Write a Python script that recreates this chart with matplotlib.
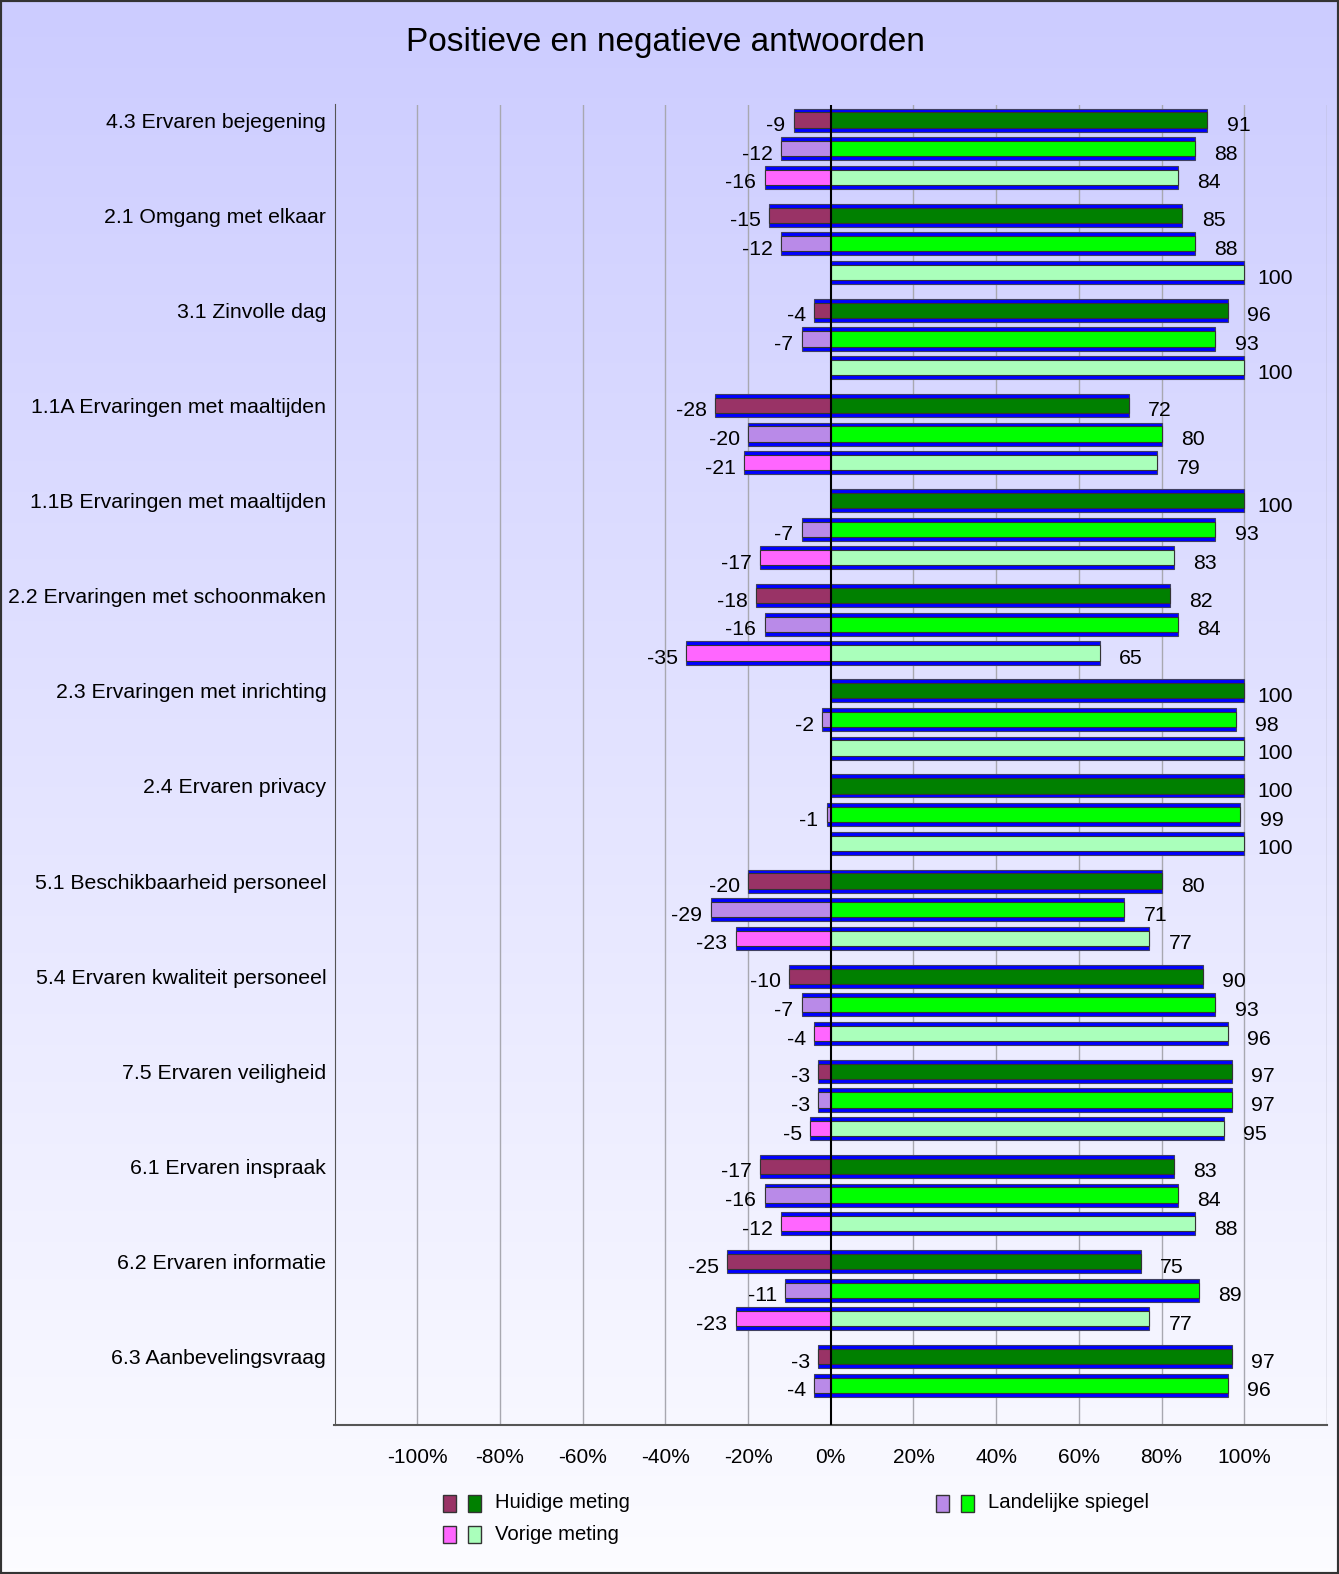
import numpy as np
import matplotlib
matplotlib.use("Agg")
import matplotlib.pyplot as plt
from matplotlib.patches import Rectangle

plt.rcParams['font.family'] = ['Liberation Sans', 'DejaVu Sans']

# Data (percentages)

categories = ["4.3 Ervaren bejegening", "2.1 Omgang met elkaar",
    "3.1 Zinvolle dag", "1.1A Ervaringen met maaltijden",
    "1.1B Ervaringen met maaltijden", "2.2 Ervaringen met schoonmaken",
    "2.3 Ervaringen met inrichting", "2.4 Ervaren privacy",
    "5.1 Beschikbaarheid personeel", "5.4 Ervaren kwaliteit personeel",
    "7.5 Ervaren veiligheid", "6.1 Ervaren inspraak",
    "6.2 Ervaren informatie", "6.3 Aanbevelingsvraag"]

huidige_neg = [-9, -15, -4, -28, None, -18, None, None, -20, -10, -3, -17, -25, -3]
huidige_pos = [91, 85, 96, 72, 100, 82, 100, 100, 80, 90, 97, 83, 75, 97]
landelijk_neg = [-12, -12, -7, -20, -7, -16, -2, -1, -29, -7, -3, -16, -11, -4]
landelijk_pos = [88, 88, 93, 80, 93, 84, 98, 99, 71, 93, 97, 84, 89, 96]
vorige_neg = [-16, None, None, -21, -17, -35, None, None, -23, -4, -5, -12, -23, None]
vorige_pos = [84, 100, 100, 79, 83, 65, 100, 100, 77, 96, 95, 88, 77, None]

series_names = ["Huidige meting", "Landelijke spiegel", "Vorige meting"]
neg_colors = ["#993366", "#b98ae8", "#ff66ff"]
pos_colors = ["#008000", "#00ff00", "#aaffbb"]
series = [(huidige_neg, huidige_pos), (landelijk_neg, landelijk_pos),
    (vorige_neg, vorige_pos)]

W, H = 1339, 1574
fig = plt.figure(figsize=(W/100, H/100), dpi=100)

# gradient background
bg = fig.add_axes([0, 0, 1, 1], zorder=-1)
top = np.array([204, 204, 255]) / 255
bot = np.array([252, 252, 255]) / 255
t = np.linspace(0, 1, 256)[:, None, None]
grad = top*(1-t) + bot*t
grad = np.repeat(grad, 2, axis=1)
bg.imshow(grad, aspect='auto', extent=[0, 1, 0, 1])
bg.axis('off')

ax_left, ax_right, ax_top, ax_bot = 334.5, 1327, 104.5, 1425
ax = fig.add_axes([ax_left/W, 1-ax_bot/H, (ax_right-ax_left)/W,
    (ax_bot-ax_top)/H])
ax.set_facecolor('none')

step = 0.301
outer_h = 0.243
inner_h = 0.16
groups = np.arange(len(categories))
val_size = 15.3

for s, (negs, poss) in enumerate(series):
    for i in groups:
        y = i + s*step
        n = negs[i]
        p = poss[i]
        if n is None and p is None:
            continue
        left = n if n is not None else 0
        right = p if p is not None else 0
        ax.barh(y, right-left, left=left, height=outer_h, color="#0000ff",
            edgecolor="#404060", linewidth=0.8, zorder=2)
        if n is not None:
            ax.barh(y, n, height=inner_h, color=neg_colors[s],
                edgecolor="#333333", linewidth=0.8, zorder=3)
            ax.annotate("{}".format(n), (n, y), xytext=(-6, -4),
                textcoords='offset points', ha='right', va='center',
                fontsize=val_size)
        if p is not None:
            ax.barh(y, p, height=inner_h, color=pos_colors[s],
                edgecolor="#333333", linewidth=0.8, zorder=3)
            ax.annotate("{}".format(p), (p, y), xytext=(22.5, -4),
                textcoords='offset points', ha='center', va='center',
                fontsize=val_size)

ax.axvline(0, color='black', lw=1.5, zorder=5)
for gx in range(-100, 121, 20):
    if gx != 0:
        ax.axvline(gx, color='#a8a8b0', lw=1, zorder=1)

ax.set_xlim(-120, 120)
ax.set_ylim(13 + 2*step + 11/94.7, -15.5/94.7)
ax.set_xticks(range(-100, 101, 20))
ax.set_xticklabels(["{}%".format(v) for v in range(-100, 101, 20)])
ax.set_yticks(groups)
ax.set_yticklabels(categories)
ax.tick_params(axis='x', length=0, pad=16.5, labelsize=15)
ax.tick_params(axis='y', length=0, pad=6, labelsize=15.3)
for sp in ['top', 'right']:
    ax.spines[sp].set_visible(False)
ax.spines['left'].set_color('#555555')
ax.spines['bottom'].set_color('#555555')
ax.spines['bottom'].set_linewidth(1.5)

fig.text(0.497, 1-42/H, "Positieve en negatieve antwoorden", ha='center',
    va='center', fontsize=24)

# legend
legend_pos = [(443, 1503, 0), (936, 1503, 1), (443, 1534, 2)]
for lx, ly, s in legend_pos:
    for k, c in enumerate([neg_colors[s], pos_colors[s]]):
        fig.patches.append(Rectangle(((lx + k*25)/W, 1-(ly+8.5)/H),
            13/W, 17/H, transform=fig.transFigure, facecolor=c,
            edgecolor='#333333', lw=1))
    fig.text((lx+52)/W, 1-ly/H, series_names[s], ha='left', va='center',
        fontsize=14.6)

fig.patches.append(Rectangle((0, 0), 1, 1, transform=fig.transFigure,
    fill=False, edgecolor='#333333', lw=3))

fig.savefig("out.png", dpi=100)
